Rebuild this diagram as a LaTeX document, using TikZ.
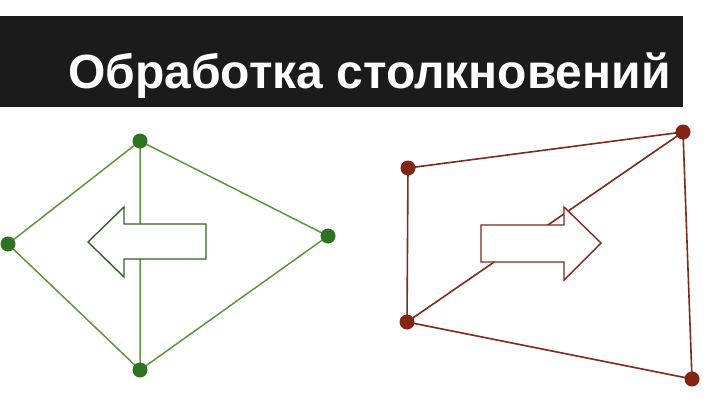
\documentclass[tikz,border=0pt]{standalone}
\usepackage{fontspec}
\setmainfont{Liberation Sans}
\usetikzlibrary{backgrounds}
\definecolor{gline}{HTML}{5E9640}
\definecolor{gdot}{HTML}{2E7420}
\definecolor{garrow}{HTML}{2F6420}
\definecolor{rline}{HTML}{7E2A1C}
\definecolor{rdot}{HTML}{842414}
\definecolor{bar}{HTML}{1B1B1B}
\tikzset{
  gdotst/.style={circle, fill=gdot, inner sep=0pt, minimum size=15pt},
  rdotst/.style={circle, fill=rdot, inner sep=0pt, minimum size=15pt},
  gedge/.style={draw=gline, line width=1.5pt},
  redge/.style={draw=rline, line width=1.6pt},
  garr/.style={draw=garrow, fill=white, line width=1.4pt, line join=miter},
  rarr/.style={draw=rline, fill=white, line width=1.4pt, line join=miter},
}
\begin{document}
\begin{tikzpicture}[x=1pt, y=-1pt]
\useasboundingbox (0,0) rectangle (720,405);
\fill[bar] (0,16) rectangle (683,107);
\node[anchor=base west, text=white, font=\bfseries\fontsize{48}{54}\selectfont, inner sep=0pt] (title) at (68,88) {Обработка столкновений};

% green
\node[gdotst] (gt) at (140,141) {};
\node[gdotst] (gl) at (8,244) {};
\node[gdotst] (gr) at (328,236) {};
\node[gdotst] (gb) at (140,370) {};
% red
\node[rdotst] (rtl) at (408,168) {};
\node[rdotst] (rtr) at (683,132) {};
\node[rdotst] (rbl) at (407,322) {};
\node[rdotst] (rbr) at (692,379) {};

\begin{pgfonlayer}{background}
\fill[white] (0,0) rectangle (720,405);
\fill[bar] (0,16) rectangle (683,107);
\draw[gedge] (gt.center) -- (gl.center) -- (gb.center) -- (gr.center) -- (gt.center) -- (gb.center);
\draw[redge] (rtl.center) -- (rtr.center) -- (rbr.center) -- (rbl.center) -- (rtl.center);
\draw[redge] (rbl.center) -- (rtr.center);
\end{pgfonlayer}

\draw[garr] (88,242) -- (124,207) -- (124,224) -- (206,224) -- (206,259) -- (124,259) -- (124,277) -- cycle;
\draw[rarr] (481,225) -- (564,225) -- (564,207) -- (601,243) -- (564,280) -- (564,262) -- (481,262) -- cycle;
\end{tikzpicture}
\end{document}
